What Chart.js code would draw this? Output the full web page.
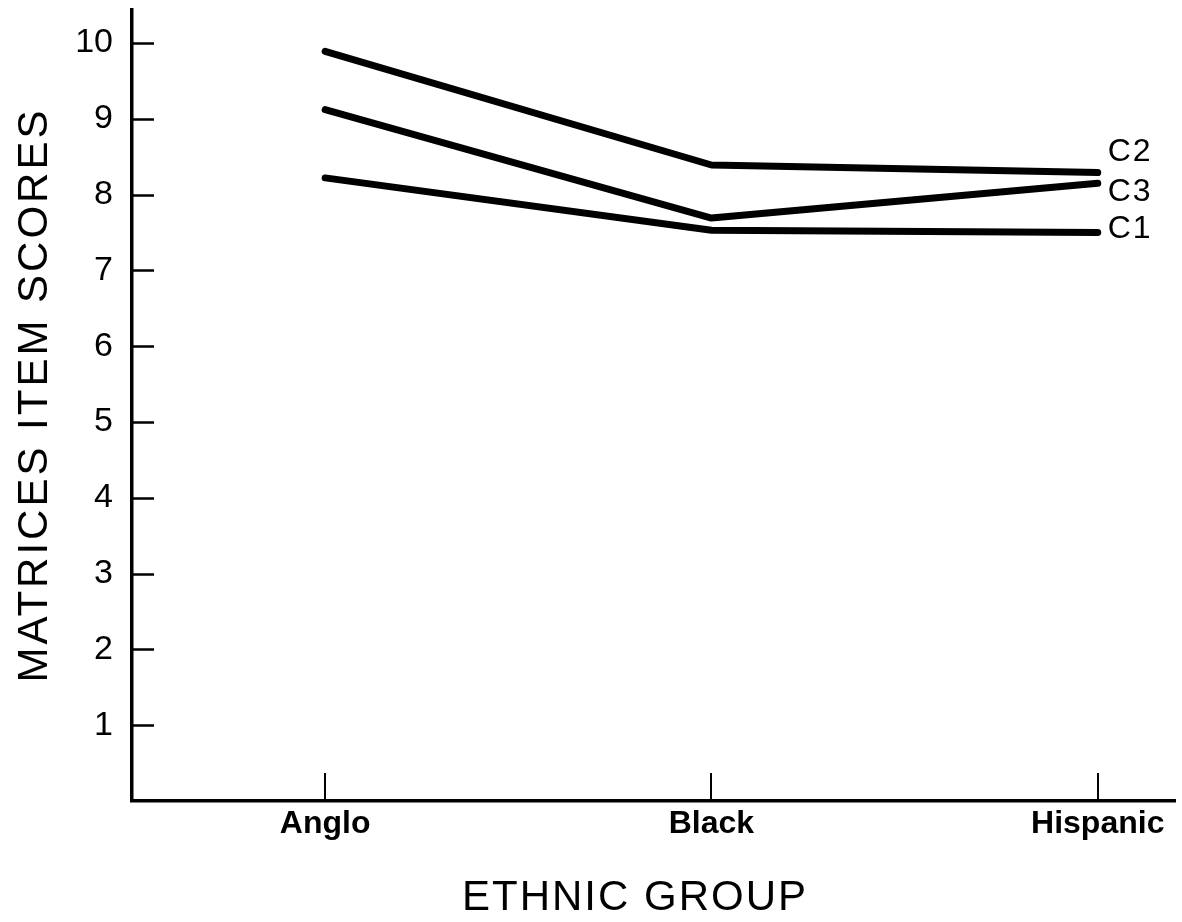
<!DOCTYPE html>
<html>
<head>
<meta charset="utf-8">
<title>Matrices item scores by ethnic group</title>
<script src="https://cdn.jsdelivr.net/npm/chart.js@4.4.1/dist/chart.umd.min.js"></script>
<style>
    html, body { margin: 0; padding: 0; background: #fff; }
    #wrap { width: 1182px; height: 922px; }
</style>
</head>
<body>
<div id="wrap"><canvas id="chart" width="1182" height="922"></canvas></div>
<script>
// Categories along the x axis and where they sit on the linear scale
const groups = ['Anglo', 'Black', 'Hispanic'];
const groupPositions = [1, 2, 3];

// Mean matrices item scores per condition
const seriesNames = ['C1', 'C2', 'C3'];
const c1Scores = [8.22, 7.53, 7.5];
const c2Scores = [9.89, 8.39, 8.29];
const c3Scores = [9.12, 7.69, 8.15];

// Y axis tick values
const yTicks = [1, 2, 3, 4, 5, 6, 7, 8, 9, 10];

// Axis titles
const xTitle = 'ETHNIC GROUP';
const yTitle = 'MATRICES ITEM SCORES';

const INK = '#000';
const FONT = '"Liberation Sans", Arial, sans-serif';

/**
 * Build {x, y} points for one series
 */
function toPoints(scores) {
    return groupPositions.map((pos, i) => ({ x: pos, y: scores[i] }));
}

/**
 * Draws the inward tick marks, the end-of-line labels and the axis titles
 */
const annotatePlugin = {
    id: 'annotate',
    afterDraw(chart) {
        const ctx = chart.ctx;
        const xScale = chart.scales.x;
        const yScale = chart.scales.y;
        const area = chart.chartArea;

        ctx.save();
        ctx.strokeStyle = INK;
        ctx.fillStyle = INK;
        ctx.lineCap = 'butt';

        // y ticks point into the plot
        ctx.lineWidth = 2.5;
        yTicks.forEach(v => {
            const py = Math.round(yScale.getPixelForValue(v)) + 0.5;
            ctx.beginPath();
            ctx.moveTo(area.left, py);
            ctx.lineTo(area.left + 22, py);
            ctx.stroke();
        });

        // x ticks stand up from the axis
        ctx.lineWidth = 2;
        groupPositions.forEach(v => {
            const px = Math.round(xScale.getPixelForValue(v));
            ctx.beginPath();
            ctx.moveTo(px, area.bottom);
            ctx.lineTo(px, area.bottom - 28);
            ctx.stroke();
        });

        // series names at the right end of each line
        const labelOffsets = { C1: -3, C2: -20, C3: 9 };
        ctx.font = '32px ' + FONT;
        ctx.letterSpacing = '2px';
        ctx.textAlign = 'left';
        ctx.textBaseline = 'middle';
        chart.data.datasets.forEach(ds => {
            const last = ds.data[ds.data.length - 1];
            const px = xScale.getPixelForValue(last.x) + 10;
            const py = yScale.getPixelForValue(last.y) + labelOffsets[ds.label];
            ctx.fillText(ds.label, px, py);
        });

        // axis titles
        ctx.font = '42px ' + FONT;
        ctx.textAlign = 'center';
        ctx.letterSpacing = '2px';
        ctx.fillText(xTitle, 635, 898);

        ctx.letterSpacing = '3px';
        ctx.translate(35, 395);
        ctx.rotate(-Math.PI / 2);
        ctx.fillText(yTitle, 0, 0);

        ctx.restore();
    }
};

document.addEventListener('DOMContentLoaded', function() {
    initChart();
});

/**
 * Create the line chart
 */
function initChart() {
    const ctx = document.getElementById('chart').getContext('2d');
    const allScores = [c1Scores, c2Scores, c3Scores];

    const lineStyle = {
        borderColor: INK,
        borderWidth: 7,
        borderCapStyle: 'round',
        borderJoinStyle: 'round',
        pointRadius: 0,
        tension: 0,
        fill: false
    };

    window.scoresChart = new Chart(ctx, {
        type: 'line',
        data: {
            datasets: seriesNames.map((name, i) => Object.assign({
                label: name,
                data: toPoints(allScores[i])
            }, lineStyle))
        },
        options: {
            responsive: false,
            animation: false,
            devicePixelRatio: 1,
            layout: {
                padding: { top: 10, right: 7, left: 0, bottom: 0 }
            },
            plugins: {
                legend: { display: false },
                tooltip: { enabled: false }
            },
            scales: {
                x: {
                    type: 'linear',
                    min: 0.5,
                    max: 3.2,
                    afterFit(scale) {
                        scale.height = 121;
                        scale.paddingLeft = 0;
                        scale.paddingRight = 0;
                    },
                    afterBuildTicks(scale) {
                        scale.ticks = groupPositions.map(v => ({ value: v }));
                    },
                    grid: { drawOnChartArea: false, drawTicks: false },
                    border: { display: true, color: INK, width: 3.5 },
                    ticks: {
                        color: INK,
                        padding: 4,
                        autoSkip: false,
                        maxRotation: 0,
                        font: { family: FONT, size: 32, weight: 'bold' },
                        callback: v => groups[groupPositions.indexOf(v)] || ''
                    }
                },
                y: {
                    type: 'linear',
                    min: 0,
                    max: 10.435,
                    afterFit(scale) {
                        scale.width = 132;
                        scale.paddingTop = 0;
                        scale.paddingBottom = 0;
                    },
                    afterBuildTicks(scale) {
                        scale.ticks = yTicks.map(v => ({ value: v }));
                    },
                    grid: { drawOnChartArea: false, drawTicks: false },
                    border: { display: true, color: INK, width: 3.5 },
                    ticks: {
                        color: INK,
                        padding: 19,
                        font: { family: FONT, size: 34 }
                    }
                }
            }
        },
        plugins: [annotatePlugin]
    });
}
</script>
</body>
</html>
